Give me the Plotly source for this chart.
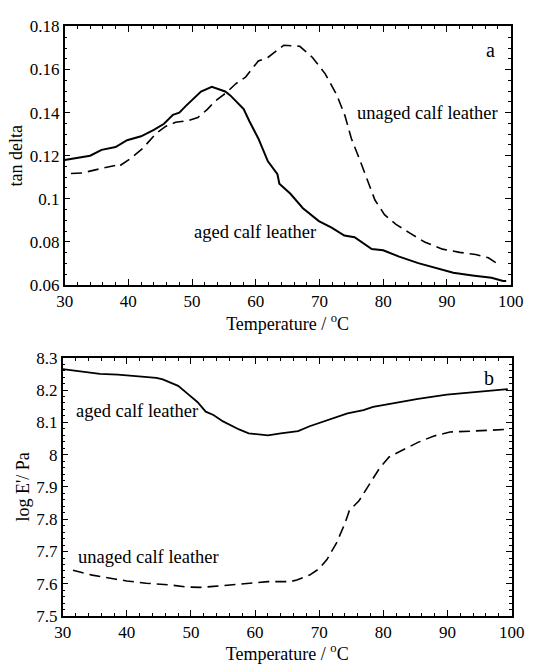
import plotly.graph_objects as go

# ---- panel a: tan delta ----
aged_a_T = [30, 32, 34, 35.8, 38, 39.8, 42, 44, 45.6, 47, 48, 49, 50, 51.4, 53.1, 54, 55.2, 56, 57, 58.1, 59, 60.4, 61.9,
            63.4, 63.7, 65.4, 67.4, 69.9, 71.9, 73.9, 75.5, 78.2, 80, 82.5, 85.5, 88.5, 91, 94, 97, 98.8, 99.3]
aged_a_v = [0.118, 0.119, 0.120, 0.1227, 0.124, 0.1272, 0.129, 0.132, 0.1348, 0.139, 0.140, 0.143, 0.146, 0.1498, 0.152, 0.151, 0.1498, 0.148, 0.145, 0.1416, 0.136, 0.128, 0.1174,
            0.1114, 0.107, 0.1024, 0.0956, 0.0896, 0.0866, 0.0829, 0.0821, 0.0766, 0.0761, 0.0731, 0.0701, 0.0678, 0.0656, 0.0644, 0.0633, 0.0618, 0.0618]

unaged_a_T = [31, 32.8, 35.8, 38.1, 38.4, 40.3, 42.3, 44.3, 45.9, 47.4, 49.4, 50.9, 52.4, 53.6, 55.4, 56.9, 58.4, 60.4, 61.9,
              63.4, 64.4, 66.9, 68.9, 70.9, 72.7, 74.0, 75.0, 76.2, 77.5, 78.7, 80.2, 82, 84, 86.5, 89.3, 92, 94.5, 96.5, 97.8]
unaged_a_v = [0.1117, 0.112, 0.1141, 0.1155, 0.1148, 0.1186, 0.1235, 0.1302, 0.1337, 0.1355, 0.1363, 0.1377, 0.1415, 0.1453, 0.1493, 0.1535, 0.1565, 0.164, 0.1656,
              0.1689, 0.1713, 0.1708, 0.1656, 0.158, 0.1483, 0.1385, 0.128, 0.119, 0.1084, 0.0994, 0.0926, 0.0881, 0.0844, 0.0799, 0.0766, 0.0751, 0.0741, 0.0726, 0.0701]

# ---- panel b: log E' ----
aged_b_T = [30, 33.1, 35.8, 38.6, 41.6, 44.6, 45.6, 48, 49.5, 51, 52.3, 53.5, 55, 56.5, 57.5, 59, 62, 64, 66.7, 68.5, 71, 74.4, 76.9,
            78.4, 81.9, 85.4, 89.9, 94.4, 99.4]
aged_b_v = [8.265, 8.258, 8.25, 8.248, 8.243, 8.238, 8.233, 8.213, 8.188, 8.163, 8.133, 8.123, 8.103, 8.088, 8.078, 8.066, 8.06, 8.066, 8.073, 8.088, 8.105, 8.128, 8.138,
            8.148, 8.16, 8.173, 8.186, 8.193, 8.203]

unaged_b_T = [31.6, 34.6, 38.1, 40, 43, 46.5, 49.5, 51.5, 53.5, 56.5, 59.5, 62, 65.5, 66.5, 68.5, 70, 71.2, 72.7, 74, 74.7, 76.2, 77.9,
              79.4, 80.9, 82.9, 85.4, 87.9, 90.4, 93.9, 96.9, 99.1]
unaged_b_v = [7.642, 7.627, 7.615, 7.609, 7.602, 7.597, 7.59, 7.589, 7.592, 7.597, 7.602, 7.607, 7.607, 7.612, 7.627, 7.647, 7.675, 7.727, 7.787, 7.827, 7.857, 7.912,
              7.958, 7.993, 8.013, 8.038, 8.058, 8.07, 8.073, 8.076, 8.078]

FONT = "'Liberation Serif', 'Times New Roman', Times, serif"
DASH = "11px,6px"
BLACK = "black"

fig = go.Figure()
fig.add_trace(go.Scatter(x=aged_a_T, y=aged_a_v, mode="lines", line=dict(color=BLACK, width=2),
                         xaxis="x", yaxis="y", showlegend=False))
fig.add_trace(go.Scatter(x=unaged_a_T, y=unaged_a_v, mode="lines", line=dict(color=BLACK, width=1.6, dash=DASH),
                         xaxis="x", yaxis="y", showlegend=False))
fig.add_trace(go.Scatter(x=aged_b_T, y=aged_b_v, mode="lines", line=dict(color=BLACK, width=1.8),
                         xaxis="x2", yaxis="y2", showlegend=False))
fig.add_trace(go.Scatter(x=unaged_b_T, y=unaged_b_v, mode="lines", line=dict(color=BLACK, width=1.6, dash=DASH),
                         xaxis="x2", yaxis="y2", showlegend=False))

tickfont = dict(family=FONT, size=17, color=BLACK)
axis_common = dict(showline=True, linecolor=BLACK, linewidth=1.5, ticks="inside",
                   ticklen=6, tickwidth=1, tickcolor=BLACK, showgrid=False, zeroline=False,
                   tickfont=tickfont)
mirror_common = dict(showline=False, ticks="inside", ticklen=6, tickwidth=1, tickcolor=BLACK,
                     showgrid=False, zeroline=False, showticklabels=False)

xtitle = dict(text="Temperature / <sup>o</sup>C", font=dict(family=FONT, size=18, color=BLACK), standoff=0)

xminor = dict(ticks="inside", ticklen=3, dtick=2, tickcolor=BLACK)
yminor_a = dict(ticks="inside", ticklen=3, dtick=0.005, tickcolor=BLACK)
yminor_b = dict(ticks="inside", ticklen=3, dtick=0.02, tickcolor=BLACK)

fig.update_layout(
    width=539, height=664,
    margin=dict(l=0, r=0, t=0, b=0),
    plot_bgcolor="white", paper_bgcolor="white",
    font=dict(family=FONT, color=BLACK),
    xaxis=dict(domain=[0.1076, 0.9703], range=[30, 100], dtick=10, anchor="y", mirror=True,
               minor=xminor, title=xtitle, **axis_common),
    yaxis=dict(domain=[0.5723, 0.9729], range=[0.06, 0.18], dtick=0.02, anchor="x", mirror=True,
               minor=yminor_a,
               title=dict(text="tan delta", font=dict(family=FONT, size=18, color=BLACK), standoff=2),
               **axis_common),
    xaxis3=dict(overlaying="x", side="top", anchor="y", range=[30, 100], dtick=10, minor=xminor, **mirror_common),
    yaxis3=dict(overlaying="y", side="right", anchor="x", range=[0.06, 0.18], dtick=0.02, minor=yminor_a, **mirror_common),
    xaxis2=dict(domain=[0.1039, 0.9722], range=[30, 100], dtick=10, anchor="y2", mirror=True,
                minor=xminor, title=xtitle, **axis_common),
    yaxis2=dict(domain=[0.0587, 0.4593], range=[7.5, 8.3], dtick=0.1, anchor="x2", mirror=True,
                minor=yminor_b,
                title=dict(text="log E'/ Pa", font=dict(family=FONT, size=18, color=BLACK), standoff=2),
                **axis_common),
    xaxis4=dict(overlaying="x2", side="top", anchor="y2", range=[30, 100], dtick=10, minor=xminor, **mirror_common),
    yaxis4=dict(overlaying="y2", side="right", anchor="x2", range=[7.5, 8.3], dtick=0.1, minor=yminor_b, **mirror_common),
)

# invisible traces to activate mirror axes
fig.add_trace(go.Scatter(x=[30], y=[0.06], xaxis="x3", yaxis="y3", mode="markers", marker=dict(opacity=0),
                         showlegend=False, hoverinfo="skip"))
fig.add_trace(go.Scatter(x=[30], y=[7.5], xaxis="x4", yaxis="y4", mode="markers", marker=dict(opacity=0),
                         showlegend=False, hoverinfo="skip"))

ann_font = dict(family=FONT, size=18.5, color=BLACK)
fig.add_annotation(x=96.8, y=0.1693, xref="x", yref="y", text="a", showarrow=False, font=dict(family=FONT, size=20, color=BLACK))
fig.add_annotation(x=86.9, y=0.140, xref="x", yref="y", text="unaged calf leather", showarrow=False, font=ann_font)
fig.add_annotation(x=59.8, y=0.0847, xref="x", yref="y", text="aged calf leather", showarrow=False, font=ann_font)
fig.add_annotation(x=96.4, y=8.238, xref="x2", yref="y2", text="b", showarrow=False, font=dict(family=FONT, size=20, color=BLACK))
fig.add_annotation(x=41.6, y=8.136, xref="x2", yref="y2", text="aged calf leather", showarrow=False, font=ann_font)
fig.add_annotation(x=43.4, y=7.682, xref="x2", yref="y2", text="unaged calf leather", showarrow=False, font=ann_font)

fig.write_html("out.html")
